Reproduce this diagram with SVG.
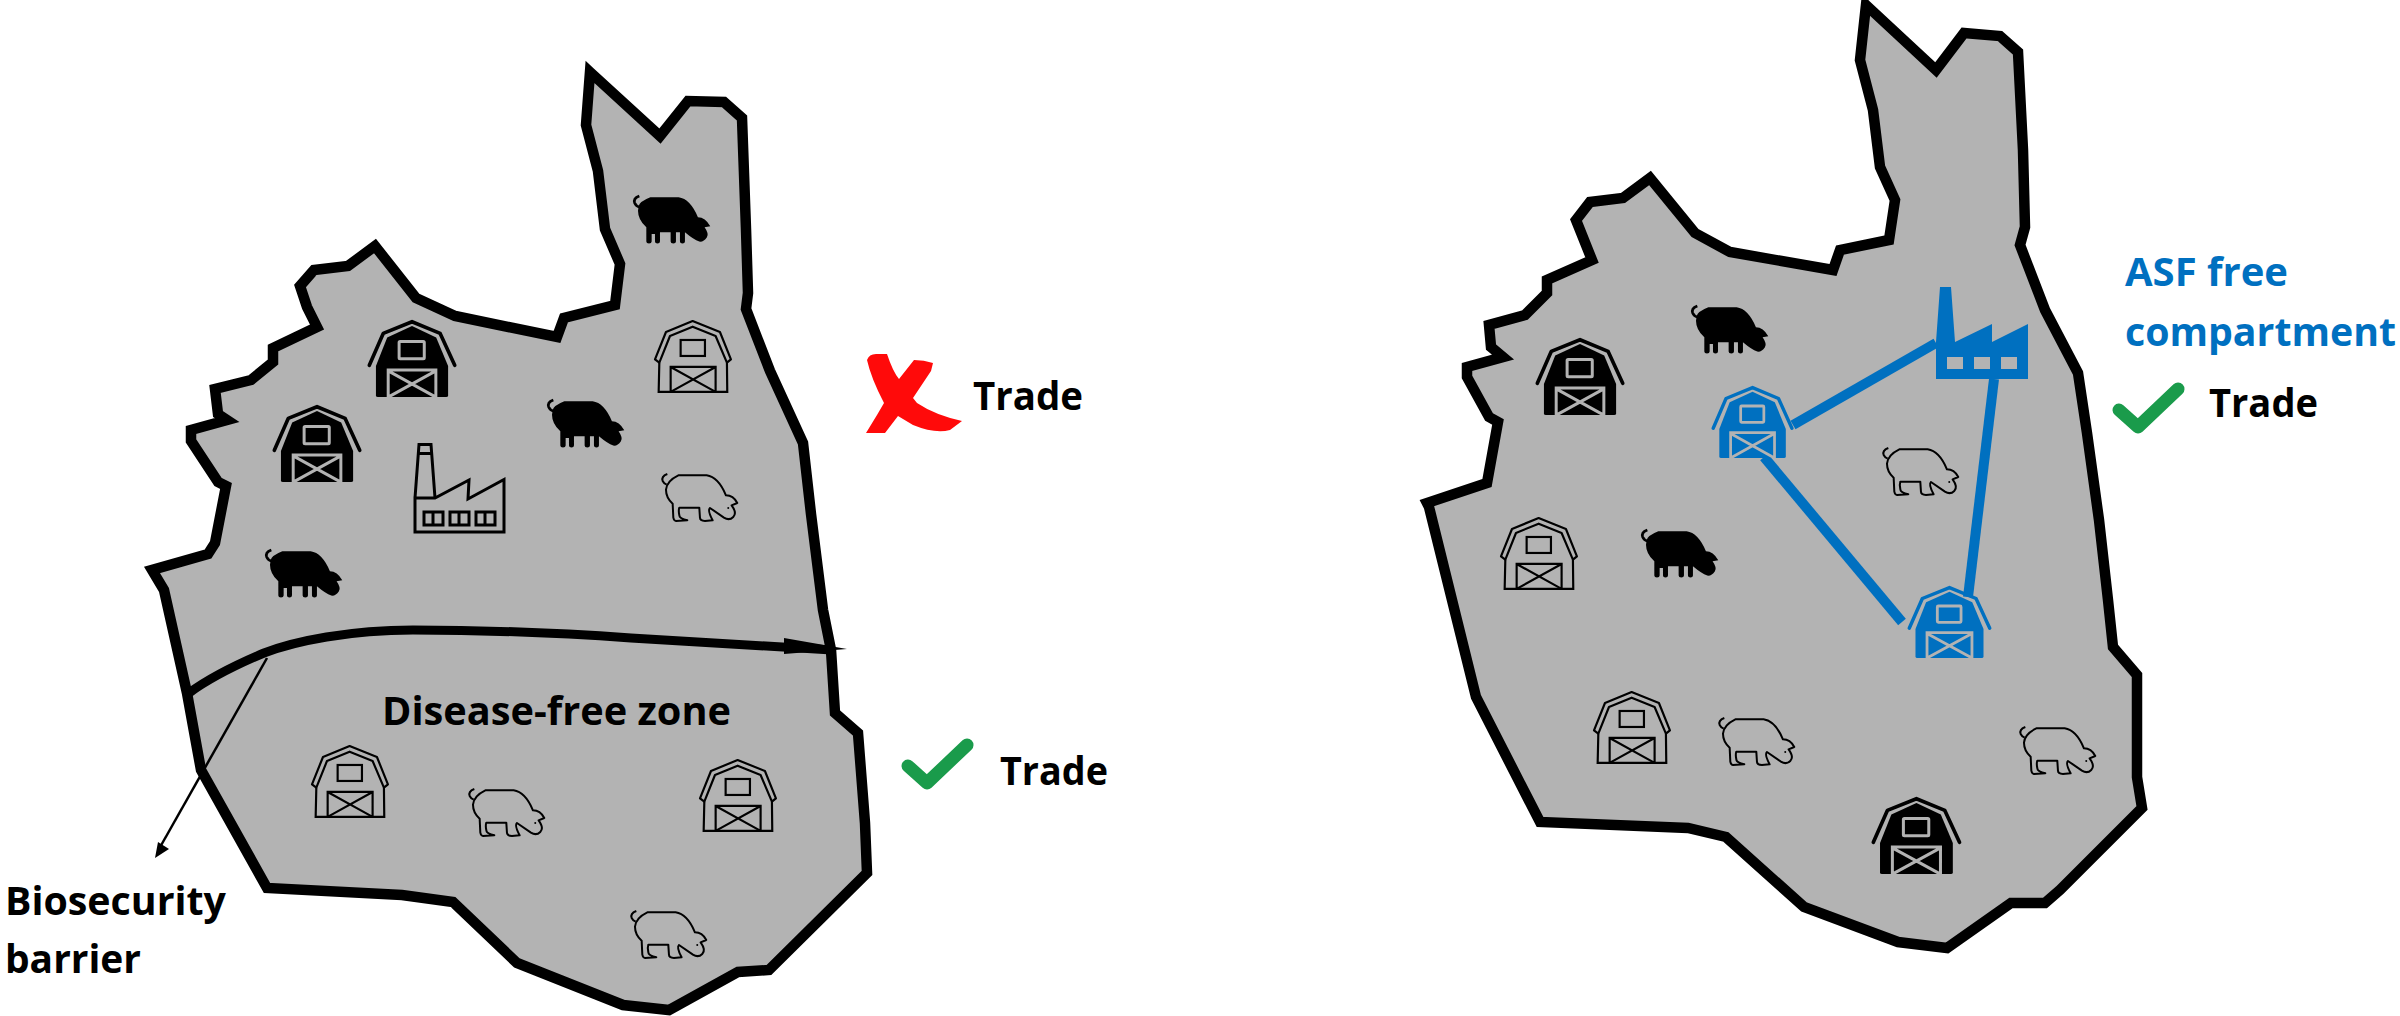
<svg xmlns="http://www.w3.org/2000/svg" width="2400" height="1016" viewBox="0 0 2400 1016">
<style>
.region{fill:#b3b3b3;stroke:#000;stroke-width:10.500;stroke-linejoin:miter;stroke-miterlimit:6}
text{font-family:"Open Sans","Noto Sans","Liberation Sans",sans-serif;font-weight:700;font-size:39px;fill:#000}
.blue{color:#0070c0}
.black{color:#000}
.link{stroke:#0070c0;stroke-width:10;fill:none}
.tick{fill:none;stroke:#1a9b4b;stroke-width:13;stroke-linecap:round;stroke-linejoin:round}
</style>
<defs>
<g id="barnSolid">
<path d="M4 135L46 40L133 5L218 40L262 135" fill="none" stroke="currentColor" stroke-width="11" stroke-linecap="round" stroke-linejoin="round"/>
<path d="M24 137L58 52L133 18L206 52L242 137V225Q242 230 236 230H30Q24 230 24 225Z" fill="currentColor"/>
<rect x="94" y="64" width="76" height="52" rx="3" fill="none" stroke="#b3b3b3" stroke-width="9"/>
<path d="M61 230V149H205V230M61 152L205 230M205 152L61 230" fill="none" stroke="#b3b3b3" stroke-width="9"/>
</g>
<g id="barnLine" fill="none" stroke="#000" stroke-width="6.500">
<path d="M3 118L36 36L116 3L198 36L231 118L219 128L185 48L116 20L48 48L16 128Z" stroke-linejoin="round"/>
<path d="M16 128L14 216H220L219 128"/>
<rect x="80" y="60" width="73" height="48"/>
<path d="M50 216V141H185V216M50 141L185 216M185 141L50 216"/>
</g>
<g id="pigSolid" transform="translate(-33 -38)">
<path d="M50 72Q52 58 85 45L170 45Q205 50 228 105Q250 105 265 132L248 135Q262 155 255 165Q245 180 232 178Q215 172 189 150V178q0 6-7.500 6t-7.500-6V150H162V178q0 6-8 6t-8-6V150H114V178q0 6-7.500 6t-7.500-6V155H89V178q0 6-8 6t-8-6V135Q48 112 48 85Z" fill="#000"/>
<path d="M52 41Q33 48 38 62Q42 72 54 75" fill="none" stroke="#000" stroke-width="8"/>
</g>
<g id="pigLine" transform="translate(-33 -38)" fill="none" stroke="#000" stroke-width="6" stroke-linejoin="round">
<path d="M52 41Q33 48 38 62Q42 70 50 73"/>
<path d="M228 105Q250 105 262 128L245 135Q262 158 250 170Q238 182 222 172L180 143Q172 150 188 180L165 182Q150 182 150 172L148 142H88Q85 150 88 165Q88 175 112 180L78 182Q72 182 70 172L68 130Q48 112 48 88Q50 62 85 45H170Q205 50 228 105Z"/>
<circle cx="235" cy="143" r="3" fill="#000" stroke="none"/>
</g>
</defs>

<g id="regions">
<path id="region-left" class="region" d="M590 72L660 136L688 101L724 102L742 118L746 229L748 293L746 309L770 371L803 443L811 514L823 610L831 650L835 713L858 733L865 823L867 873L769 970L738 972L669 1010L623 1005L517 963L453 902L402 895L267 888L201 770L187 693L164 590L152 570L208 554L215 543L226 486L218 482L191 441L191 430L227 420L218 414L215 389L251 380L273 362L273 348L317 327L307 307L300 286L314 270L348 266L375 246L416 298L455 316L557 337L564 318L615 305L620 264L605 229L598 171L586 125Z"/>
<path id="region-right" class="region" d="M1866 5L1936 70L1964 33L2000 36L2018 52L2023 150L2025 227L2020 245L2045 310L2078 373L2087 433L2099 520L2108 600L2113 647L2137 675L2137 777L2142 808L2060 890L2045 903L2011 903L1947 948L1898 942L1804 907L1726 837L1688 828L1540 822L1476 697L1429 507L1427 503L1487 483L1498 422L1489 417L1467 377L1467 367L1503 357L1491 347L1489 325L1525 315L1547 293L1547 280L1592 260L1576 220L1590 202L1623 198L1650 178L1695 233L1730 252L1833 270L1840 250L1889 240L1895 200L1880 167L1873 110L1860 60Z"/>
</g>

<g id="connectors">
<path id="barrier" d="M189 693C215 674 245 661 264 653C295 641 350 630 413 630C490 630 560 633 631 638L832 650" fill="none" stroke="#000" stroke-width="9"/>
<path d="M784 638L847 649L784 654Z" fill="#000"/>
<path d="M267 658L159 849" fill="none" stroke="#000" stroke-width="2.500"/>
<path d="M155 858L158 842L169 849Z" fill="#000"/>
<path class="link" d="M1793 425L1936 343"/>
<path class="link" d="M1764 457L1902 622"/>
<path class="link" d="M1994 379L1968 597"/>
</g>

<g id="barn-l1" class="black"><use href="#barnSolid" transform="translate(368 320) scale(.331 .335)"/></g>
<g id="barn-l2" class="black"><use href="#barnSolid" transform="translate(273 405) scale(.331 .335)"/></g>
<g id="barn-l3"><use href="#barnLine" transform="translate(654 320) scale(.333)"/></g>
<g id="barn-l4"><use href="#barnLine" transform="translate(311 745) scale(.333)"/></g>
<g id="barn-l5"><use href="#barnLine" transform="translate(699 759) scale(.333)"/></g>
<g id="pig-l1"><use href="#pigSolid" transform="translate(633 195) scale(.333)"/></g>
<g id="pig-l2"><use href="#pigSolid" transform="translate(547 399) scale(.333)"/></g>
<g id="pig-l3"><use href="#pigSolid" transform="translate(265 549) scale(.333)"/></g>
<g id="pig-l4"><use href="#pigLine" transform="translate(661 473) scale(.333)"/></g>
<g id="pig-l5"><use href="#pigLine" transform="translate(468 788) scale(.333)"/></g>
<g id="pig-l6"><use href="#pigLine" transform="translate(630 910) scale(.333)"/></g>
<g id="factory-l" fill="none" stroke="#000" stroke-width="3">
<path d="M415 532H504V479.500L468 499L469 480L435 498H415ZM415 498L419 444.500H431L435 498M419 453.500H431"/>
<path d="M424 512h19v13h-19zM450 512h19v13h-19zM476 512h19v13h-19zM433 512v13M459 512v13M485 512v13"/>
</g>

<g id="barn-r1" class="black"><use href="#barnSolid" transform="translate(1536 338) scale(.331 .335)"/></g>
<g id="barn-r2" class="blue"><use href="#barnSolid" transform="translate(1712 386) scale(.305 .313)"/></g>
<g id="barn-r3" class="blue"><use href="#barnSolid" transform="translate(1908 586) scale(.312 .313)"/></g>
<g id="barn-r4"><use href="#barnLine" transform="translate(1500 517) scale(.333)"/></g>
<g id="barn-r5"><use href="#barnLine" transform="translate(1593 691) scale(.333)"/></g>
<g id="barn-r6" class="black"><use href="#barnSolid" transform="translate(1872 797) scale(.334 .335)"/></g>
<g id="pig-r1"><use href="#pigSolid" transform="translate(1691 305) scale(.333)"/></g>
<g id="pig-r2"><use href="#pigSolid" transform="translate(1641 529) scale(.333)"/></g>
<g id="pig-r3"><use href="#pigLine" transform="translate(1882 447) scale(.333)"/></g>
<g id="pig-r4"><use href="#pigLine" transform="translate(1718 717) scale(.333)"/></g>
<g id="pig-r5"><use href="#pigLine" transform="translate(2019 726) scale(.333)"/></g>
<g id="factory-r">
<path d="M1936 379V342L1940 287H1951L1955 342L1992 324V342L2028 324V379Z" fill="#0070c0"/>
<path d="M1947 357h16v12h-16zM1974 357h16v12h-16zM2001 357h16v12h-16z" fill="#b3b3b3"/>
</g>

<g id="mark-x"><path d="M867 360Q869 354 876 354L887 354Q893 372 899 379L914 360Q924 360 933 363L931 371L913 398L917 403Q935 415 962 421L950 430Q935 434 913 425L898 416L885 433H866L877 415L884 403Q871 378 867 360Z" fill="#ff0a0a"/></g>
<g id="mark-check-1"><path class="tick" d="M908 766L927 783L967 745"/></g>
<g id="mark-check-2"><path class="tick" d="M2119 410L2138 427L2178 389"/></g>

<g id="labels">
<text x="973" y="410" textLength="110" lengthAdjust="spacingAndGlyphs">Trade</text>
<text x="1000" y="785" textLength="108" lengthAdjust="spacingAndGlyphs">Trade</text>
<text x="2209" y="417" textLength="109" lengthAdjust="spacingAndGlyphs">Trade</text>
<text x="382" y="725" textLength="349" lengthAdjust="spacingAndGlyphs">Disease-free zone</text>
<text x="5" y="915" textLength="221" lengthAdjust="spacingAndGlyphs">Biosecurity</text>
<text x="5" y="973" textLength="136" lengthAdjust="spacingAndGlyphs">barrier</text>
<text x="2125" y="286" textLength="163" lengthAdjust="spacingAndGlyphs" style="fill:#0070c0">ASF free</text>
<text x="2125" y="346" textLength="271" lengthAdjust="spacingAndGlyphs" style="fill:#0070c0">compartment</text>
</g>
</svg>
